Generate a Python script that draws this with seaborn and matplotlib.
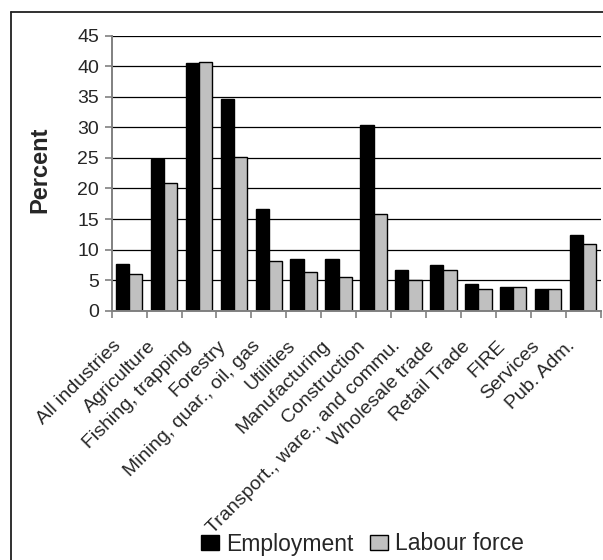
import matplotlib
matplotlib.use("Agg")
import matplotlib.pyplot as plt
from matplotlib.lines import Line2D
from matplotlib.ticker import FixedLocator
from matplotlib.transforms import ScaledTranslation
import seaborn as sns
import pandas as pd

industries = [
    "All industries", "Agriculture", "Fishing, trapping", "Forestry",
    "Mining, quar., oil, gas", "Utilities", "Manufacturing", "Construction",
    "Transport., ware., and commu.", "Wholesale trade", "Retail Trade",
    "FIRE", "Services", "Pub. Adm.",
]
employment = [7.6, 24.9, 40.5, 34.7, 16.6, 8.4, 8.4, 30.4, 6.6, 7.4, 4.3, 3.8, 3.5, 12.4]
labour_force = [6.0, 20.9, 40.7, 25.2, 8.1, 6.4, 5.5, 15.9, 5.0, 6.6, 3.6, 3.8, 3.5, 10.9]
series_names = ["Employment", "Labour force"]
y_ticks = [0, 5, 10, 15, 20, 25, 30, 35, 40, 45]

df = pd.DataFrame({
    "industry": industries * 2,
    "value": employment + labour_force,
    "series": [series_names[0]] * len(industries) + [series_names[1]] * len(industries),
})

sns.set_style("white")
plt.rcParams["font.family"] = ["Liberation Sans", "DejaVu Sans"]

fig = plt.figure(figsize=(6.03, 5.60), dpi=100)
ax = fig.add_axes([111.7 / 603, 1 - 310.7 / 560, (600.5 - 111.7) / 603, (310.7 - 35.7) / 560])

sns.barplot(
    data=df, x="industry", y="value", hue="series", order=industries,
    hue_order=series_names,
    palette={series_names[0]: "#000000", series_names[1]: "#c0c0c0"},
    width=0.76, edgecolor="black", linewidth=1.0, legend=False, ax=ax,
)

ax.set_ylim(0, 45)
ax.set_xlim(-0.5, len(industries) - 0.5)
ax.set_yticks(y_ticks)
ax.yaxis.grid(True, color="#000000", linewidth=0.9)
ax.set_axisbelow(True)

for side in ("top", "right"):
    ax.spines[side].set_visible(False)
for side in ("left", "bottom"):
    ax.spines[side].set_color("#808080")
    ax.spines[side].set_linewidth(1.4)

ax.tick_params(axis="y", which="major", direction="out", length=5, width=1.2,
               color="#808080", labelsize=14, pad=4, left=True)
ax.tick_params(axis="x", which="major", length=0, labelsize=14, pad=10)
ax.xaxis.set_minor_locator(FixedLocator([i - 0.5 for i in range(len(industries) + 1)]))
ax.tick_params(axis="x", which="minor", direction="out", length=5, width=1.2,
               color="#808080", bottom=True)
ax.set_xticks(range(len(industries)))
ax.set_xticklabels(industries, rotation=45, ha="right", va="top", rotation_mode="anchor")

# nudge the slanted category labels down and to the left of their ticks
shift = ScaledTranslation(-0.17, -0.13, fig.dpi_scale_trans)
for lbl in ax.get_xticklabels():
    lbl.set_transform(lbl.get_transform() + shift)

ax.set_xlabel("")
ax.set_ylabel("Percent", fontsize=17, fontweight="bold")
ax.yaxis.set_label_coords(-0.124, 0.513)

handles = [
    plt.Rectangle((0, 0), 1, 1, facecolor="#000000", edgecolor="black", linewidth=1),
    plt.Rectangle((0, 0), 1, 1, facecolor="#c0c0c0", edgecolor="black", linewidth=1),
]
fig.legend(handles, series_names, loc="center", bbox_to_anchor=(362.5 / 603, 1 - 544 / 560),
           ncol=2, frameon=False, fontsize=16.5, handlelength=0.8, handleheight=0.65,
           handletextpad=0.3, columnspacing=0.7, borderaxespad=0, borderpad=0)

# outer chart frame (top and left edges)
fig.add_artist(Line2D([10.5 / 603, 1.0], [1 - 11.5 / 560, 1 - 11.5 / 560],
                      transform=fig.transFigure, color="#202020", linewidth=1.3))
fig.add_artist(Line2D([10.5 / 603, 10.5 / 603], [0.0, 1 - 11.5 / 560],
                      transform=fig.transFigure, color="#202020", linewidth=1.3))

fig.savefig("out.png", dpi=100, facecolor="white")
